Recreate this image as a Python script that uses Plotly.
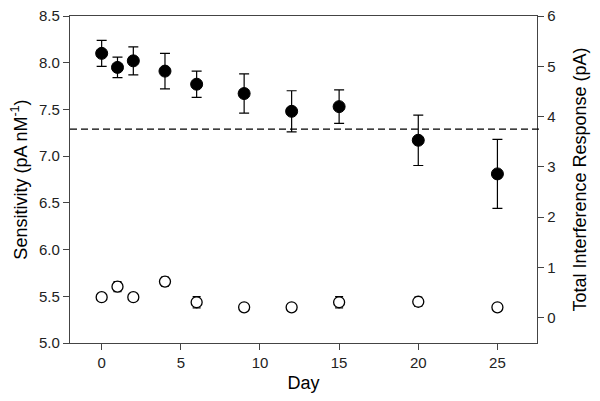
import plotly.graph_objects as go

days = [0, 1, 2, 4, 6, 9, 12, 15, 20, 25]
sensitivity = [8.10, 7.95, 8.02, 7.91, 7.77, 7.67, 7.48, 7.53, 7.17, 6.81]
sensitivity_err = [0.14, 0.11, 0.15, 0.19, 0.14, 0.21, 0.22, 0.18, 0.27, 0.37]
interference = [0.41, 0.62, 0.41, 0.72, 0.31, 0.21, 0.21, 0.31, 0.32, 0.21]
interference_err = [0.0, 0.10, 0.0, 0.09, 0.11, 0.0, 0.0, 0.11, 0.09, 0.0]
threshold = 7.29

axis_color = "#444444"
text_color = "#222222"
font_family = "Liberation Sans, Arial, sans-serif"

fig = go.Figure()

fig.add_trace(go.Scatter(
    x=days, y=sensitivity, mode="markers",
    marker=dict(symbol="circle", size=12, color="black", line=dict(color="black", width=1)),
    error_y=dict(type="data", array=sensitivity_err, visible=True, color="black", thickness=1.2, width=5),
    showlegend=False, yaxis="y",
))

fig.add_trace(go.Scatter(
    x=days, y=interference, mode="markers",
    marker=dict(symbol="circle", size=11, color="white", line=dict(color="black", width=1.3)),
    error_y=dict(type="data", array=interference_err, visible=True, color="black", thickness=1.2, width=4),
    showlegend=False, yaxis="y2",
))

fig.add_shape(type="line", xref="paper", x0=0, x1=1.012, yref="y", y0=threshold, y1=threshold,
              line=dict(color="black", width=1.3, dash="7px,4px"))

tickfont = dict(family=font_family, size=15, color=text_color)
titlefont = dict(family=font_family, size=18, color="black")

fig.update_layout(
    width=592, height=393,
    margin=dict(l=62, r=63, t=8, b=58),
    paper_bgcolor="white", plot_bgcolor="white",
    xaxis=dict(
        range=[-2, 27.5], tickvals=[0, 5, 10, 15, 20, 25],
        ticks="outside", ticklen=6, tickcolor=axis_color,
        showline=True, linecolor=axis_color, linewidth=1.3, mirror=True,
        showgrid=False, zeroline=False, tickfont=tickfont, automargin=False,
        ticklabeloverflow="allow",
        title=dict(text="Day", font=titlefont, standoff=6),
    ),
    yaxis=dict(
        range=[5.0, 8.5], tickvals=[5.0, 5.5, 6.0, 6.5, 7.0, 7.5, 8.0, 8.5], tickformat=".1f",
        ticks="outside", ticklen=6, tickcolor=axis_color,
        showline=True, linecolor=axis_color, linewidth=1.3,
        showgrid=False, zeroline=False, tickfont=tickfont, automargin=False,
        ticklabeloverflow="allow",
        title=dict(text="Sensitivity (pA nM<sup>-1</sup>)", font=titlefont, standoff=10),
    ),
    yaxis2=dict(
        range=[-0.5, 6], tickvals=[0, 1, 2, 3, 4, 5, 6],
        overlaying="y", side="right",
        ticks="outside", ticklen=6, tickcolor=axis_color,
        showline=True, linecolor=axis_color, linewidth=1.3,
        showgrid=False, zeroline=False, tickfont=tickfont, automargin=False,
        ticklabeloverflow="allow",
        title=dict(text="Total Interference Response (pA)", font=titlefont, standoff=18),
    ),
)

fig.write_html("out.html")
